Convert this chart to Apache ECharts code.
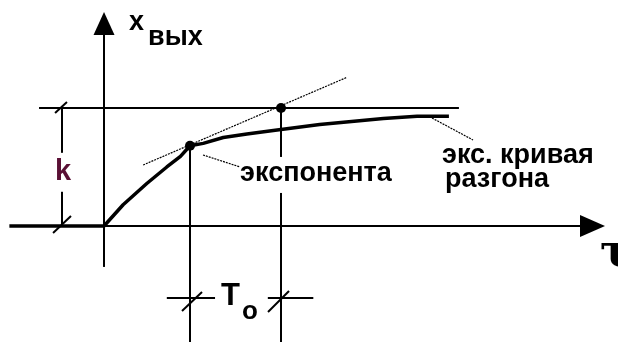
<!DOCTYPE html>
<html>
<head>
<meta charset="utf-8">
<script src="https://cdn.jsdelivr.net/npm/echarts@6/dist/echarts.min.js"></script>
<style>
  html, body { margin: 0; padding: 0; background: #fff; }
  #chart { width: 618px; height: 342px; }
</style>
</head>
<body>
<div id="chart"></div>
<script>
// units: time in T0, output in k
const curveT = [-1.04, 0, 0.21, 0.47, 0.69, 0.84, 0.945, 1.09, 1.31, 1.57, 1.86, 2.37, 3.07, 3.44, 3.79];
const curveX = [0, 0, 0.18, 0.36, 0.50, 0.59, 0.68, 0.70, 0.75, 0.78, 0.81, 0.86, 0.91, 0.93, 0.93];

const tangentT = [0.43, 2.67];
const tangentX = [0.517, 1.26];

const k = 1;
const tTouch = 0.945;        // tangent point
const tCross = 1.945;        // tangent meets k
const kLineT = [-0.714, 3.9];

const dotT = [0.945, 1.945];
const dotX = [0.68, 1.0];

// two-point segments [t1, x1, t2, x2]
const axisSegs = [
  [0, -0.347, 0, 1.62],        // x_out axis
  [0, 0, 5.25, 0]              // time axis
];
const guideSegs = [
  [tTouch, 0.68, tTouch, -0.99],
  [tCross, k, tCross, 0.585],
  [tCross, 0.28, tCross, -0.99],
  [-0.462, k, -0.462, 0.62],   // k dimension
  [-0.462, 0.29, -0.462, 0],
  [0.69, -0.61, 1.22, -0.61],  // T0 dimension
  [1.80, -0.61, 2.30, -0.61],
  [-0.538, 0.958, -0.407, 1.051],
  [-0.560, -0.059, -0.363, 0.085],
  [0.857, -0.720, 1.077, -0.559],
  [1.802, -0.729, 2.033, -0.551]
];
const leaderSegs = [
  [1.088, 0.602, 1.495, 0.500],
  [3.604, 0.915, 4.055, 0.729]
];

function segSeries(segs, width, type) {
  return segs.map(s => ({
    type: 'line',
    data: [[s[0], s[1]], [s[2], s[3]]],
    symbol: 'none',
    silent: true,
    lineStyle: { color: '#000', width: width, type: type || 'solid' }
  }));
}

function note(t, x, text, style) {
  return {
    type: 'scatter',
    data: [[t, x]],
    symbolSize: 0,
    silent: true,
    itemStyle: { opacity: 1 },
    label: Object.assign({
      show: true,
      position: [0, 0],
      align: 'left',
      verticalAlign: 'middle',
      formatter: text,
      color: '#000',
      opacity: 1,
      fontFamily: 'Liberation Sans',
      fontWeight: 'bold',
      fontSize: 27
    }, style || {})
  };
}

const chart = echarts.init(document.getElementById('chart'));
chart.setOption({
  animation: false,
  backgroundColor: '#fff',
  grid: { left: 0, right: 0, top: 0, bottom: 0 },
  xAxis: { type: 'value', min: -1.143, max: 5.648, show: false },
  yAxis: { type: 'value', min: -0.983, max: 1.915, show: false },
  series: [
    ...segSeries(axisSegs, 2),
    ...segSeries(guideSegs, 2),
    ...segSeries(leaderSegs, 1.2, [2, 1]),
    {
      type: 'line',
      data: [[kLineT[0], k], [kLineT[1], k]],
      symbol: 'none',
      silent: true,
      lineStyle: { color: '#000', width: 2 }
    },
    {
      type: 'line',
      data: tangentT.map((t, i) => [t, tangentX[i]]),
      symbol: 'none',
      silent: true,
      lineStyle: { color: '#000', width: 1.2, type: [2, 1] }
    },
    {
      type: 'line',
      data: curveT.map((t, i) => [t, curveX[i]]),
      symbol: 'none',
      silent: true,
      lineStyle: { color: '#000', width: 3.5 }
    },
    {
      type: 'scatter',
      data: dotT.map((t, i) => [t, dotX[i]]),
      symbol: 'circle',
      symbolSize: 10,
      silent: true,
      itemStyle: { color: '#000', opacity: 1 }
    },
    {
      type: 'scatter',
      data: [[0, 1.716]],
      symbol: 'triangle',
      symbolSize: [21, 23],
      silent: true,
      itemStyle: { color: '#000', opacity: 1 }
    },
    {
      type: 'scatter',
      data: [[5.368, 0]],
      symbol: 'triangle',
      symbolSize: [22, 25],
      symbolRotate: -90,
      silent: true,
      itemStyle: { color: '#000', opacity: 1 }
    },
    note(0.275, 1.72, 'x'),
    note(0.484, 1.60, 'вых'),
    note(-0.538, 0.46, 'k', { color: '#5a1035', fontSize: 29 }),
    note(1.495, 0.445, 'экспонента'),
    note(3.714, 0.60, 'экс. кривая'),
    note(3.747, 0.39, 'разгона'),
    note(1.286, -0.60, 'T', { fontSize: 31 }),
    note(1.516, -0.73, 'o', { fontSize: 26 }),
    note(5.451, -0.24, 'τ', { fontFamily: 'DejaVu Serif', fontSize: 44 })
  ]
});
</script>
</body>
</html>
